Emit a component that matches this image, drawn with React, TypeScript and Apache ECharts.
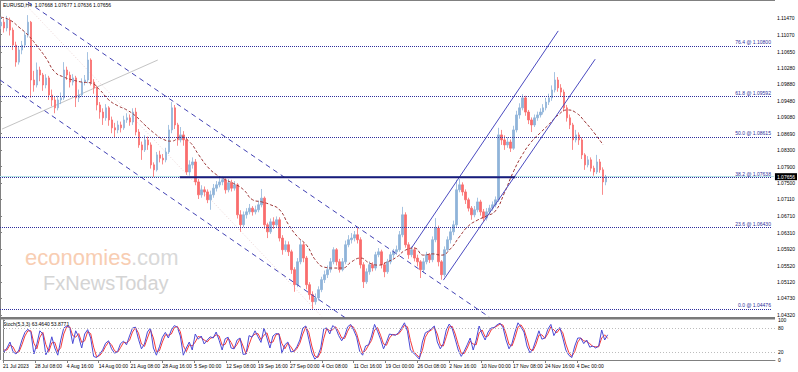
import React, { useEffect, useRef } from "react";
import * as echarts from "echarts";

// ---- data (EURUSD, H4) ----
// x unit = H4 bar index counted from 21 Jul 2023 00:00; one candle here = 3 H4 bars
const BARS_PER_CANDLE = 3;
const MA_EVERY = 9;
const LABEL_EVERY = 32;

const dateLabels = ["21 Jul 2023", "28 Jul 08:00", "4 Aug 16:00", "14 Aug 00:00", "21 Aug 08:00", "28 Aug 16:00", "5 Sep 00:00", "12 Sep 08:00", "19 Sep 16:00", "27 Sep 00:00", "4 Oct 08:00", "11 Oct 16:00", "19 Oct 00:00", "26 Oct 08:00", "2 Nov 16:00", "10 Nov 00:00", "17 Nov 08:00", "24 Nov 16:00", "4 Dec 00:00"];

const priceTicks = [1.1147, 1.1107, 1.1065, 1.1028, 1.0988, 1.0948, 1.0908, 1.0869, 1.083, 1.079, 1.075, 1.0711, 1.0671, 1.0631, 1.0592, 1.0552, 1.0512, 1.0473, 1.0432];
const stochTicks = [0, 20, 80, 100];

const firstOpen = 1.1128;
const closes = [
  1.1137, 1.1123, 1.1142, 1.1118, 1.1082, 1.1041, 1.1070, 1.1082, 1.1106, 1.1137,
  1.0998, 1.0986, 1.1022, 1.1010, 1.0986, 1.1003, 1.0962, 1.0950, 1.0931, 1.0950,
  1.0955, 1.1022, 1.1010, 1.0993, 1.1003, 1.0955, 1.0962, 1.0993, 1.0998, 1.1046,
  1.0993, 1.0979, 1.0938, 1.0921, 1.0907, 1.0931, 1.0902, 1.0883, 1.0878, 1.0890,
  1.0883, 1.0902, 1.0907, 1.0897, 1.0921, 1.0873, 1.0842, 1.0830, 1.0854, 1.0842,
  1.0794, 1.0782, 1.0818, 1.0810, 1.0806, 1.0825, 1.0878, 1.0931, 1.0890, 1.0854,
  1.0866, 1.0854, 1.0777, 1.0794, 1.0801, 1.0753, 1.0722, 1.0734, 1.0729, 1.0710,
  1.0722, 1.0738, 1.0746, 1.0753, 1.0758, 1.0734, 1.0751, 1.0738, 1.0746, 1.0674,
  1.0650, 1.0674, 1.0681, 1.0690, 1.0681, 1.0686, 1.0698, 1.0714, 1.0650, 1.0633,
  1.0657, 1.0650, 1.0662, 1.0618, 1.0590, 1.0602, 1.0585, 1.0542, 1.0506, 1.0561,
  1.0602, 1.0570, 1.0506, 1.0482, 1.0465, 1.0474, 1.0494, 1.0518, 1.0530, 1.0542,
  1.0561, 1.0590, 1.0561, 1.0542, 1.0561, 1.0602, 1.0614, 1.0618, 1.0626, 1.0614,
  1.0554, 1.0513, 1.0537, 1.0554, 1.0546, 1.0578, 1.0585, 1.0554, 1.0537, 1.0561,
  1.0578, 1.0585, 1.0590, 1.0626, 1.0674, 1.0602, 1.0578, 1.0590, 1.0570, 1.0561,
  1.0542, 1.0561, 1.0578, 1.0566, 1.0614, 1.0642, 1.0561, 1.0530, 1.0590, 1.0614,
  1.0633, 1.0650, 1.0734, 1.0746, 1.0729, 1.0710, 1.0690, 1.0674, 1.0686, 1.0705,
  1.0681, 1.0666, 1.0681, 1.0690, 1.0698, 1.0710, 1.0866, 1.0854, 1.0842, 1.0849,
  1.0834, 1.0878, 1.0914, 1.0931, 1.0955, 1.0921, 1.0902, 1.0890, 1.0907, 1.0914,
  1.0921, 1.0931, 1.0945, 1.0955, 1.0974, 1.0998, 1.0979, 1.0969, 1.0931, 1.0907,
  1.0890, 1.0854, 1.0866, 1.0854, 1.0818, 1.0794, 1.0806, 1.0786, 1.0777, 1.0801,
  1.0782, 1.0753, 1.0766,
];
const highs = [
  1.1150, 1.1145, 1.1152, 1.1148, 1.1124, 1.1090, 1.1078, 1.1092, 1.1115, 1.1154,
  1.1140, 1.1020, 1.1040, 1.1030, 1.1015, 1.1012, 1.1008, 1.0975, 1.0958, 1.0960,
  1.0968, 1.1041, 1.1030, 1.1018, 1.1012, 1.1008, 1.0975, 1.1002, 1.1010, 1.1065,
  1.1050, 1.1000, 1.0985, 1.0945, 1.0930, 1.0940, 1.0935, 1.0910, 1.0895, 1.0900,
  1.0898, 1.0912, 1.0918, 1.0915, 1.0930, 1.0931, 1.0880, 1.0850, 1.0865, 1.0862,
  1.0848, 1.0800, 1.0825, 1.0828, 1.0820, 1.0835, 1.0890, 1.0945, 1.0938, 1.0895,
  1.0885, 1.0875, 1.0860, 1.0805, 1.0812, 1.0808, 1.0760, 1.0745, 1.0742, 1.0735,
  1.0732, 1.0748, 1.0755, 1.0762, 1.0767, 1.0762, 1.0760, 1.0758, 1.0755, 1.0750,
  1.0685, 1.0682, 1.0690, 1.0700, 1.0695, 1.0696, 1.0708, 1.0736, 1.0718, 1.0655,
  1.0665, 1.0668, 1.0670, 1.0668, 1.0625, 1.0612, 1.0610, 1.0590, 1.0548, 1.0570,
  1.0614, 1.0608, 1.0575, 1.0512, 1.0490, 1.0485, 1.0502, 1.0525, 1.0540, 1.0552,
  1.0570, 1.0596, 1.0594, 1.0568, 1.0570, 1.0612, 1.0625, 1.0630, 1.0635, 1.0642,
  1.0620, 1.0560, 1.0545, 1.0562, 1.0560, 1.0585, 1.0594, 1.0590, 1.0560, 1.0568,
  1.0585, 1.0592, 1.0600, 1.0635, 1.0693, 1.0680, 1.0608, 1.0598, 1.0596, 1.0578,
  1.0565, 1.0570, 1.0585, 1.0582, 1.0622, 1.0666, 1.0648, 1.0565, 1.0598, 1.0622,
  1.0642, 1.0660, 1.0758, 1.0760, 1.0752, 1.0735, 1.0715, 1.0695, 1.0695, 1.0715,
  1.0710, 1.0688, 1.0690, 1.0698, 1.0706, 1.0718, 1.0883, 1.0878, 1.0865, 1.0860,
  1.0855, 1.0888, 1.0924, 1.0942, 1.0964, 1.0960, 1.0926, 1.0908, 1.0915, 1.0922,
  1.0930, 1.0940, 1.0955, 1.0965, 1.0985, 1.1017, 1.1005, 1.0988, 1.0975, 1.0938,
  1.0915, 1.0895, 1.0878, 1.0872, 1.0860, 1.0822, 1.0815, 1.0812, 1.0792, 1.0818,
  1.0808, 1.0788, 1.0770,
];
const lows = [
  1.1120, 1.1112, 1.1115, 1.1105, 1.1070, 1.1030, 1.1035, 1.1060, 1.1075, 1.1100,
  1.0955, 1.0970, 1.0980, 1.0995, 1.0972, 1.0978, 1.0950, 1.0935, 1.0918, 1.0925,
  1.0940, 1.0950, 1.0998, 1.0980, 1.0985, 1.0933, 1.0945, 1.0958, 1.0985, 1.0990,
  1.0985, 1.0965, 1.0925, 1.0905, 1.0890, 1.0900, 1.0888, 1.0870, 1.0861, 1.0870,
  1.0872, 1.0878, 1.0895, 1.0888, 1.0890, 1.0865, 1.0835, 1.0806, 1.0825, 1.0830,
  1.0785, 1.0765, 1.0778, 1.0800, 1.0795, 1.0800, 1.0820, 1.0870, 1.0880, 1.0840,
  1.0848, 1.0840, 1.0770, 1.0768, 1.0785, 1.0745, 1.0712, 1.0715, 1.0718, 1.0702,
  1.0686, 1.0715, 1.0730, 1.0740, 1.0745, 1.0725, 1.0728, 1.0730, 1.0732, 1.0665,
  1.0633, 1.0645, 1.0665, 1.0675, 1.0672, 1.0675, 1.0680, 1.0692, 1.0640, 1.0618,
  1.0628, 1.0640, 1.0645, 1.0610, 1.0578, 1.0585, 1.0575, 1.0532, 1.0489, 1.0500,
  1.0555, 1.0560, 1.0495, 1.0470, 1.0448, 1.0458, 1.0468, 1.0488, 1.0510, 1.0522,
  1.0535, 1.0555, 1.0552, 1.0535, 1.0538, 1.0555, 1.0596, 1.0605, 1.0610, 1.0605,
  1.0545, 1.0498, 1.0508, 1.0530, 1.0538, 1.0540, 1.0572, 1.0545, 1.0524, 1.0532,
  1.0555, 1.0570, 1.0578, 1.0585, 1.0620, 1.0595, 1.0568, 1.0572, 1.0562, 1.0550,
  1.0522, 1.0535, 1.0555, 1.0558, 1.0560, 1.0608, 1.0550, 1.0518, 1.0525, 1.0585,
  1.0605, 1.0625, 1.0645, 1.0728, 1.0720, 1.0700, 1.0682, 1.0662, 1.0668, 1.0680,
  1.0672, 1.0658, 1.0660, 1.0675, 1.0684, 1.0692, 1.0705, 1.0842, 1.0830, 1.0835,
  1.0825, 1.0830, 1.0872, 1.0905, 1.0925, 1.0912, 1.0892, 1.0873, 1.0885, 1.0900,
  1.0908, 1.0915, 1.0925, 1.0938, 1.0948, 1.0968, 1.0970, 1.0958, 1.0922, 1.0898,
  1.0880, 1.0830, 1.0848, 1.0842, 1.0808, 1.0782, 1.0788, 1.0778, 1.0768, 1.0772,
  1.0775, 1.0722, 1.0745,
];

// moving average (dashed red), one value every 9 H4 bars
const maValues = [
  1.1149, 1.1142, 1.1125, 1.1106, 1.1080, 1.1051, 1.1017, 1.1005, 1.0998, 1.0993,
  1.0991, 1.0974, 1.0950, 1.0936, 1.0926, 1.0911, 1.0890, 1.0871, 1.0856, 1.0851,
  1.0861, 1.0849, 1.0818, 1.0789, 1.0770, 1.0758, 1.0748, 1.0734, 1.0710, 1.0705,
  1.0698, 1.0686, 1.0650, 1.0621, 1.0601, 1.0565, 1.0548, 1.0546, 1.0546, 1.0561,
  1.0570, 1.0558, 1.0553, 1.0561, 1.0572, 1.0589, 1.0594, 1.0577, 1.0580, 1.0577,
  1.0592, 1.0621, 1.0647, 1.0661, 1.0671, 1.0683, 1.0726, 1.0777, 1.0818, 1.0849,
  1.0871, 1.0892, 1.0914, 1.0926, 1.0919, 1.0897, 1.0871, 1.0842,
];

// Stochastic (5,3,3), one value per candle
const stochMain = [
  20, 30, 45, 21, 15, 25, 50, 69, 77, 69, 15, 40, 73, 65, 13, 28, 58, 30, 12, 50,
  80, 85, 81, 41, 73, 58, 30, 65, 76, 55, 9, 6, 15, 25, 42, 48, 28, 17, 21, 41,
  47, 38, 60, 80, 82, 52, 28, 40, 70, 80, 30, 12, 33, 57, 69, 55, 75, 86, 82, 60,
  12, 30, 45, 25, 65, 52, 60, 40, 50, 58, 55, 70, 49, 25, 53, 57, 30, 28, 50, 55,
  14, 15, 61, 57, 73, 58, 44, 80, 55, 30, 60, 66, 65, 17, 38, 45, 20, 22, 33, 50,
  80, 85, 52, 18, 2, 10, 30, 78, 80, 65, 86, 80, 61, 48, 60, 83, 89, 75, 57, 22,
  12, 35, 38, 60, 89, 72, 52, 28, 45, 65, 63, 62, 68, 80, 93, 72, 25, 18, 10, 2,
  45, 68, 72, 78, 85, 45, 28, 41, 75, 90, 78, 52, 25, 9, 22, 38, 55, 25, 50, 85,
  65, 50, 70, 80, 81, 88, 92, 81, 50, 28, 42, 70, 93, 82, 70, 35, 18, 28, 50, 73,
  52, 55, 77, 89, 61, 75, 81, 55, 25, 12, 6, 35, 55, 55, 41, 50, 32, 35, 30, 35,
  75, 50, 63,
];
const stochSignal = [
  25, 25, 38, 33, 18, 20, 38, 60, 73, 73, 42, 28, 57, 69, 39, 21, 43, 44, 21, 31,
  65, 83, 83, 61, 57, 66, 44, 48, 71, 66, 32, 8, 11, 20, 34, 45, 38, 23, 19, 31,
  44, 43, 49, 70, 81, 67, 40, 34, 55, 75, 55, 21, 23, 45, 63, 62, 65, 81, 84, 71,
  36, 21, 38, 35, 45, 59, 56, 50, 45, 54, 57, 63, 60, 37, 39, 55, 44, 29, 39, 53,
  35, 15, 38, 59, 65, 66, 51, 62, 68, 43, 45, 63, 66, 41, 28, 42, 33, 21, 28, 42,
  65, 83, 69, 35, 10, 6, 20, 54, 79, 73, 76, 83, 71, 55, 54, 72, 86, 82, 66, 40,
  17, 24, 37, 49, 75, 81, 62, 40, 37, 55, 64, 63, 65, 74, 87, 83, 49, 22, 14, 6,
  24, 57, 70, 75, 82, 65, 37, 35, 58, 83, 84, 65, 39, 17, 16, 30, 47, 40, 38, 68,
  75, 58, 60, 75, 81, 85, 90, 87, 66, 39, 35, 56, 82, 88, 76, 53, 27, 23, 39, 62,
  63, 54, 66, 83, 75, 68, 78, 68, 40, 19, 9, 21, 45, 55, 48, 46, 41, 34, 33, 33,
  55, 63, 54,
];

// Fibonacci retracement (100 = 1.12754, 0 = 1.04476)
const fibPercents = ["76.4", "61.8", "50.0", "38.2", "23.6", "0.0"];
const fibPrices = [1.108, 1.09592, 1.08615, 1.07638, 1.0643, 1.04476];

const bidPrice = 1.07656;
// drawn objects: [H4 bar index, price] end points
const descChannelUpper = [[28, 1.1185], [490, 1.0428]];
const descChannelLower = [[0, 1.0998], [346, 1.0426]];
const faintLine = [[28, 1.1173], [322, 1.043]];
const grayLine = [[2, 1.088], [158, 1.1046]];
const ascChannelUpper = [[412, 1.0594], [559, 1.1116]];
const ascChannelLower = [[444, 1.0517], [596, 1.1048]];
const resistanceLine = [[180, 1.0764], [516, 1.0764]];

// ---- styling ----
const UP = "#8fb4d9";
const DOWN = "#f96d6d";
const NAVY = "#2e2e9c";
const AXIS = "#808080";
const FONT = "Liberation Sans, Arial, sans-serif";
const MARK_FONT = "Liberation Sans";
const PLOT_W = 775;
const X_MAX = 775;

function lineSeries(data: number[][], style: any, z = 4) {
  return {
    type: "line",
    xAxisIndex: 0,
    yAxisIndex: 0,
    data,
    symbol: "none",
    silent: true,
    clip: true,
    z,
    lineStyle: style,
  };
}

export default function App() {
  const ref = useRef<HTMLDivElement>(null);
  useEffect(() => {
    const chart = echarts.init(ref.current!, undefined, { renderer: "svg" });

    const candleData = closes.map((c, i) => {
      const o = i === 0 ? firstOpen : closes[i - 1];
      return [1 + BARS_PER_CANDLE * i, o, c, lows[i], highs[i]];
    });
    const maData = maValues.map((v, j) => [1 + MA_EVERY * j, v]);
    const kData = stochMain.map((v, i) => [1 + BARS_PER_CANDLE * i, v]);
    const dData = stochSignal.map((v, i) => [1 + BARS_PER_CANDLE * i, v]);
    const labelTicks = dateLabels.map((_, k) => k * LABEL_EVERY);

    const fibLines = fibPercents.map((p, k) => [
      { name: `${p} @ ${fibPrices[k].toFixed(5)}`, coord: [0, fibPrices[k]] },
      { coord: [773, fibPrices[k]] },
    ]);

    const option: any = {
      animation: false,
      backgroundColor: "#ffffff",
      textStyle: { fontFamily: FONT },
      grid: [
        { left: 0, top: 0, width: PLOT_W, height: 317, containLabel: false },
        { left: 0, top: 320, width: PLOT_W, height: 40, containLabel: false },
      ],
      xAxis: [
        { gridIndex: 0, type: "value", min: 0, max: X_MAX, show: false },
        {
          gridIndex: 1,
          type: "value",
          min: 0,
          max: X_MAX,
          axisLine: { show: true, lineStyle: { color: AXIS, width: 1 } },
          axisTick: { show: true, customValues: labelTicks, length: 3, lineStyle: { color: AXIS } },
          axisLabel: {
            customValues: labelTicks,
            formatter: (v: number) => dateLabels[Math.round(v / LABEL_EVERY)] ?? "",
            fontSize: 5,
            color: "#000",
            align: "left",
            margin: 3,
            fontFamily: FONT,
          },
          splitLine: { show: false },
        },
      ],
      yAxis: [
        {
          gridIndex: 0,
          type: "value",
          position: "right",
          min: 1.04283,
          max: 1.11903,
          axisLine: { show: true, lineStyle: { color: AXIS } },
          axisTick: { show: true, customValues: priceTicks, length: 2, lineStyle: { color: AXIS } },
          axisLabel: {
            customValues: priceTicks,
            formatter: (v: number) => v.toFixed(5),
            fontSize: 5,
            color: "#000",
            margin: 3,
            fontFamily: FONT,
          },
          splitLine: { show: false },
        },
        {
          gridIndex: 1,
          type: "value",
          position: "right",
          min: 0,
          max: 100,
          axisLine: { show: true, lineStyle: { color: AXIS } },
          axisTick: { show: true, customValues: stochTicks, length: 2, lineStyle: { color: AXIS } },
          axisLabel: {
            customValues: stochTicks,
            fontSize: 5,
            color: "#000",
            margin: 3,
            fontFamily: FONT,
          },
          splitLine: { show: false },
        },
      ],
      series: [
        {
          type: "candlestick",
          xAxisIndex: 0,
          yAxisIndex: 0,
          data: candleData,
          barWidth: 2,
          z: 3,
          silent: true,
          itemStyle: { color: UP, color0: DOWN, borderColor: UP, borderColor0: DOWN, borderWidth: 0.8 },
          markLine: {
            silent: true,
            symbol: ["none", "none"],
            z: 1,
            lineStyle: { color: "#b5e2e2", type: "solid", width: 1 },
            label: {
              show: true,
              position: "end",
              distance: 1,
              formatter: () => bidPrice.toFixed(5),
              backgroundColor: "#000",
              color: "#fff",
              fontSize: 5,
              padding: [1, 2, 1, 2],
              fontFamily: FONT,
            },
            data: [[{ coord: [0, bidPrice] }, { coord: [X_MAX, bidPrice] }]],
          },
        },
        {
          type: "line",
          xAxisIndex: 0,
          yAxisIndex: 0,
          data: maData,
          symbol: "none",
          smooth: true,
          silent: true,
          z: 4,
          lineStyle: { color: "#9c3434", width: 1, type: [3, 2] },
          markLine: {
            silent: true,
            symbol: ["none", "none"],
            lineStyle: { color: NAVY, width: 1, type: [1, 1] },
            label: {
              show: true,
              position: "insideEndTop",
              formatter: "{b}",
              color: NAVY,
              fontSize: 5,
              distance: 1,
              fontFamily: FONT,
            },
            data: fibLines,
          },
        },
        lineSeries(descChannelUpper, { color: "#4141b4", width: 1, type: [5, 4] }),
        lineSeries(descChannelLower, { color: "#4141b4", width: 1, type: [5, 4] }),
        lineSeries(faintLine, { color: "#ecd6d6", width: 1, type: [1, 2] }, 2),
        lineSeries(grayLine, { color: "#c4c4c4", width: 1 }, 2),
        lineSeries(ascChannelUpper, { color: "#4a4ac0", width: 1 }),
        lineSeries(ascChannelLower, { color: "#4a4ac0", width: 1 }),
        lineSeries(resistanceLine, { color: "#1b1b7c", width: 2 }, 5),
        {
          type: "line",
          xAxisIndex: 1,
          yAxisIndex: 1,
          data: dData,
          symbol: "none",
          silent: true,
          z: 3,
          lineStyle: { color: "#f43a3a", width: 1 },
          markLine: {
            silent: true,
            symbol: ["none", "none"],
            label: { show: false },
            lineStyle: { color: "#bdbdbd", width: 1, type: [1, 2] },
            data: [{ yAxis: 20 }, { yAxis: 80 }],
          },
        },
        {
          type: "line",
          xAxisIndex: 1,
          yAxisIndex: 1,
          data: kData,
          symbol: "none",
          silent: true,
          z: 4,
          lineStyle: { color: "#4b4bd6", width: 1 },
        },
      ],
      graphic: [
        { type: "line", silent: true, shape: { x1: 0, y1: 0.5, x2: PLOT_W, y2: 0.5 }, style: { stroke: AXIS, lineWidth: 1 } },
        { type: "line", silent: true, shape: { x1: 0.5, y1: 0, x2: 0.5, y2: 360 }, style: { stroke: AXIS, lineWidth: 1 } },
        { type: "rect", silent: true, shape: { x: 0, y: 317, width: PLOT_W, height: 2.5 }, style: { fill: "#7a7a7a" } },
        {
          type: "text",
          silent: true,
          x: 3,
          y: 2,
          style: { text: "EURUSD,H4  1.07668 1.07677 1.07636 1.07656", fill: "#000", fontSize: 5, fontFamily: FONT },
        },
        {
          type: "text",
          silent: true,
          x: 3,
          y: 321,
          style: { text: "Stoch(5,3,3) 63.4640 53.8771", fill: "#000", fontSize: 5, fontFamily: FONT },
        },
        {
          type: "text",
          silent: true,
          z: -1,
          x: 25,
          y: 246,
          style: { text: "economies", fill: "#f8cdb2", fontSize: 22, fontFamily: MARK_FONT },
        },
        {
          type: "text",
          silent: true,
          z: -1,
          x: 131,
          y: 246,
          style: { text: ".com", fill: "#d9d9d9", fontSize: 22, fontFamily: MARK_FONT },
        },
        {
          type: "text",
          silent: true,
          z: -1,
          x: 43,
          y: 273,
          style: { text: "FxNewsToday", fill: "#d4d4d4", fontSize: 20, fontFamily: MARK_FONT },
        },
      ],
    };

    chart.setOption(option);
    return () => chart.dispose();
  }, []);

  return (
    <div
      ref={ref}
      style={{ position: "fixed", left: 0, top: 0, width: 798, height: 372, background: "#fff" }}
    />
  );
}
